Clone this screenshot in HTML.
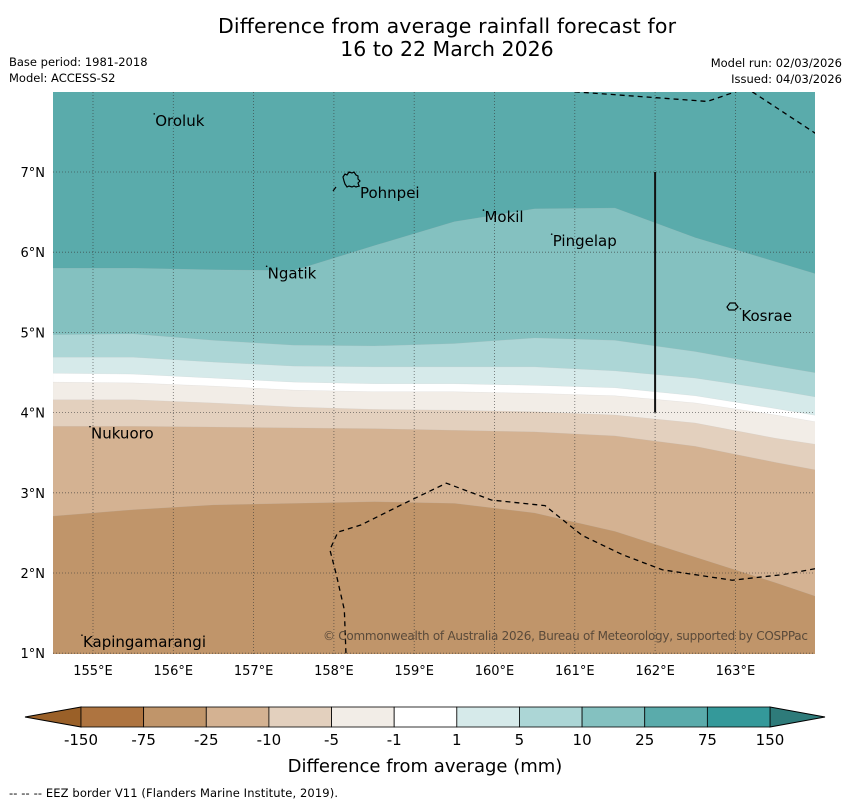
<!DOCTYPE html>
<html><head><meta charset="utf-8"><style>
body{margin:0;background:#fff;}
svg text{font-family:"DejaVu Sans","Liberation Sans",sans-serif;}
</style></head><body>
<svg id="chart" width="850" height="804" xmlns="http://www.w3.org/2000/svg">
<text x="447" y="33" font-size="20.5" text-anchor="middle" textLength="458">Difference from average rainfall forecast for</text>
<text x="447" y="56" font-size="20.5" text-anchor="middle">16 to 22 March 2026</text>
<text x="9" y="66" font-size="11.5">Base period: 1981-2018</text>
<text x="9" y="82" font-size="11.5">Model: ACCESS-S2</text>
<text x="842" y="67" font-size="11.5" text-anchor="end">Model run: 02/03/2026</text>
<text x="842" y="83" font-size="11.5" text-anchor="end">Issued: 04/03/2026</text>
<defs><clipPath id="mapclip"><rect x="53" y="92" width="762" height="562"/></clipPath></defs>
<g id="map" clip-path="url(#mapclip)"></g>
<g id="axes"></g>
<g id="cbar"></g>
<text x="425" y="772" font-size="18" text-anchor="middle">Difference from average (mm)</text>
<text x="9" y="797" font-size="11.5" textLength="329">--  --  -- EEZ border V11 (Flanders Marine Institute, 2019).</text>
</svg>
<script>
const lons=[154.5,155.5,156.5,157.5,158.5,159.5,160.5,161.5,162.5,163.5,164.03];
const c25=[5.80,5.80,5.78,5.77,6.08,6.38,6.54,6.55,6.18,5.88,5.72];
const c10=[4.97,4.98,4.90,4.84,4.83,4.86,4.93,4.90,4.76,4.58,4.49];
const c5=[4.69,4.69,4.63,4.58,4.57,4.57,4.57,4.52,4.43,4.28,4.19];
const c1=[4.49,4.48,4.43,4.38,4.36,4.36,4.34,4.31,4.21,4.05,3.96];
const cm1=[4.38,4.37,4.33,4.28,4.26,4.26,4.24,4.21,4.12,3.97,3.88];
const cm5=[4.16,4.16,4.12,4.07,4.04,4.03,4.01,3.97,3.87,3.68,3.60];
const cm10=[3.83,3.83,3.82,3.81,3.80,3.78,3.76,3.71,3.58,3.38,3.28];
const cm25=[2.71,2.79,2.85,2.87,2.89,2.87,2.75,2.52,2.20,1.88,1.70];
const eezTopA=[[161.0,8.0],[162.65,7.88],[163.09,8.03]];
const eezTopB=[[163.21,8.0],[164.03,7.46]];
const eezSouth=[[158.15,1.0],[158.13,1.54],[158.03,1.98],[157.95,2.29],[158.05,2.51],[158.34,2.60],[158.84,2.85],[159.40,3.12],[159.96,2.91],[160.63,2.84],[161.09,2.47],[161.59,2.23],[162.09,2.04],[162.96,1.91],[163.59,1.98],[164.03,2.06]];
const places=[["Oroluk",155.75,7.65],["Pohnpei",158.3,6.75],["Mokil",159.85,6.45],["Pingelap",160.7,6.15],["Ngatik",157.15,5.75],["Kosrae",163.05,5.22],["Nukuoro",154.95,3.75],["Kapingamarangi",154.85,1.15]];
const lonTicks=[155,156,157,158,159,160,161,162,163];
const latTicks=[1,2,3,4,5,6,7];
const cbLevels=["-150","-75","-25","-10","-5","-1","1","5","10","25","75","150"];
const cbColors=["#ae7440","#c0956a","#d4b292","#e3d0be","#f2ede7","#ffffff","#d6eaea","#acd6d6","#84c1c0","#5aabab","#34999a"];
const NS="http://www.w3.org/2000/svg";
const X=lon=>93+(lon-155)*80.3;
const Y=lat=>172+(7-lat)*80.2;
function mk(tag,attrs,parent){const e=document.createElementNS(NS,tag);for(const k in attrs)e.setAttribute(k,attrs[k]);parent.appendChild(e);return e;}
const map=document.getElementById('map');
let r=mk('rect',{x:53,y:92,width:762,height:562,fill:'#5aabab'},map);


const bands=[[c25,'#84c1c0','band-10-25'],[c10,'#acd6d6','band-5-10'],[c5,'#d6eaea','band-1-5'],[c1,'#ffffff','band-neutral'],[cm1,'#f2ede7','band-minus1-minus5'],[cm5,'#e3d0be','band-minus5-minus10'],[cm10,'#d4b292','band-minus10-minus25'],[cm25,'#c0956a','band-minus25-minus75']];
bands.forEach(b=>{
  let d='M'+X(lons[0])+','+Y(b[0][0]);
  for(let i=1;i<lons.length;i++)d+=' L'+X(lons[i])+','+Y(b[0][i]);
  d+=' L'+X(lons[lons.length-1])+',660 L'+X(lons[0])+',660 Z';
  const p=mk('path',{d:d,fill:b[1],stroke:'#bbb','stroke-width':0.3,'stroke-opacity':0.5},map);
  
  
});
lonTicks.forEach(l=>{const g=mk('line',{x1:X(l),x2:X(l),y1:92,y2:654,stroke:'#333','stroke-width':0.8,'stroke-dasharray':'1,2','stroke-opacity':0.7},map);

});
latTicks.forEach(l=>{const g=mk('line',{x1:53,x2:815,y1:Y(l),y2:Y(l),stroke:'#333','stroke-width':0.8,'stroke-dasharray':'1,2','stroke-opacity':0.7},map);

});
[eezTopA,eezTopB,eezSouth].forEach(pts=>{
  const e=mk('polyline',{points:pts.map(p=>X(p[0])+','+Y(p[1])).join(' '),fill:'none',stroke:'#000','stroke-width':1.3,'stroke-dasharray':'5,4'},map);
  
  
});
let vl=mk('line',{x1:X(162),x2:X(162),y1:Y(7),y2:Y(4),stroke:'#111','stroke-width':2},map);


let pi=mk('path',{d:'M343,177 l2,-3 l2,1 l2,-3 l3,1 l2,-1 l2,3 l2,1 l0,3 l2,2 l-2,2 l1,3 l-3,1 l-2,-1 l-2,1 l-3,-1 l-2,1 l-2,-3 l-1,-3 Z',fill:'none',stroke:'#000','stroke-width':1.2},map);


let ki=mk('path',{d:'M727,307 l3,-4 l5,0 l3,4 l-3,3 l-6,0 Z',fill:'none',stroke:'#000','stroke-width':1.2},map);


let sd=mk('line',{x1:333,y1:191,x2:336,y2:187,stroke:'#000','stroke-width':1.2},map);


places.forEach(p=>{
  const t=mk('text',{x:X(p[1])+2,y:Y(p[2])+6,'font-size':15,fill:'#000'},map);
  t.textContent=p[0];
  
  
  const d=mk('circle',{cx:X(p[1])+1,cy:Y(p[2])-6,r:0.8,fill:'#000'},map);
  
  
});
let cp=mk('text',{x:808,y:640,'font-size':12,fill:'#5a4a3a','text-anchor':'end',textLength:485},map);
cp.textContent='© Commonwealth of Australia 2026, Bureau of Meteorology, supported by COSPPac';


const axes=document.getElementById('axes');
lonTicks.forEach(l=>{const t=mk('text',{x:X(l),y:675,'font-size':13,'text-anchor':'middle'},axes);t.textContent=l+'°E';

});
latTicks.forEach(l=>{const t=mk('text',{x:45,y:Y(l)+5,'font-size':13,'text-anchor':'end'},axes);t.textContent=l+'°N';

});
const cb=document.getElementById('cbar');
const x0=81,x1=770,w=(x1-x0)/cbColors.length,yt=707,yb=727;
let lt=mk('polygon',{points:`${x0},${yt} 25,717 ${x0},${yb}`,fill:'#9a6028',stroke:'#000','stroke-width':1},cb);


let rt=mk('polygon',{points:`${x1},${yt} 825,717 ${x1},${yb}`,fill:'#2e7b7a',stroke:'#000','stroke-width':1},cb);


cbColors.forEach((c,i)=>{const b=mk('rect',{x:x0+i*w,y:yt,width:w,height:yb-yt,fill:c,stroke:'#000','stroke-width':0.8},cb);

});
cbLevels.forEach((s,i)=>{const t=mk('text',{x:x0+i*w,y:745,'font-size':15,'text-anchor':'middle'},cb);t.textContent=s;

});
</script>
</body></html>
